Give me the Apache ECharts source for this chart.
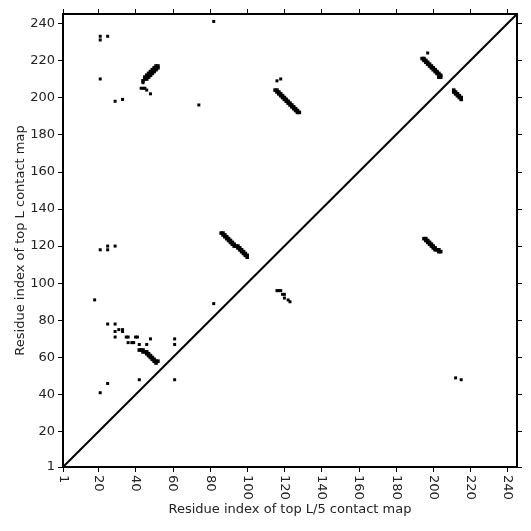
<!DOCTYPE html>
<html>
<head>
<meta charset="utf-8">
<script src="https://cdn.jsdelivr.net/npm/echarts@6/dist/echarts.min.js"></script>
<style>
  html, body { margin: 0; padding: 0; background: #fff; }
  #chart { width: 531px; height: 531px; }
</style>
</head>
<body>
<div id="chart"></div>
<script>
// axis range and ticks
const axisMin = 1;
const axisMax = 245;
const tickValues = [1, 20, 40, 60, 80, 100, 120, 140, 160, 180, 200, 220, 240];
const diagonal = [1, 245];

// contact clusters, [x, y] residue pairs
const clusterA = [[44,209],[45,210],[45,211],[46,210],[46,211],[46,212],[47,211],[47,212],[47,213],[48,212],[48,213],[48,214],
  [49,213],[49,214],[49,215],[50,214],[50,215],[50,216],[51,215],[51,216],[51,217],[52,216],[52,217]];
const clusterB = [[115,204],[116,204],[116,203],[117,203],[117,202],[118,202],[118,201],[119,201],[119,200],[120,200],
  [120,199],[121,199],[121,198],[122,198],[122,197],[123,197],[123,196],[124,196],[124,195],[125,195],[125,194],
  [126,194],[126,193],[127,193],[127,192],[128,192]];
const clusterC = [[194,221],[195,221],[195,220],[196,220],[196,219],[197,219],[197,218],[198,218],[198,217],[199,217],
  [199,216],[200,216],[200,215],[201,215],[201,214],[202,214],[202,213],[203,213],[203,212],[204,212],[203,211],[204,211]];
const clusterD = [[211,204],[211,203],[212,203],[212,202],[213,202],[213,201],[214,201],[214,200],[215,200],[215,199]];
const clusterE = [[86,127],[87,127],[87,126],[88,126],[88,125],[89,125],[89,124],[90,124],[90,123],[91,123],[91,122],
  [92,122],[92,121],[93,121],[93,120],[94,120],[95,120],[95,119],[96,119],[96,118],[97,118],[97,117],[98,117],
  [98,116],[99,116],[99,115],[100,115],[100,114]];
const clusterF = [[195,124],[196,124],[196,123],[197,123],[197,122],[198,122],[198,121],[199,121],[199,120],[200,120],
  [200,119],[201,119],[201,118],[202,118],[203,118],[203,117],[204,117]];
const clusterG = [[42,64],[43,64],[44,64],[44,63],[45,63],[46,63],[46,62],[47,62],[47,61],[48,61],[48,60],[49,60],
  [49,59],[50,59],[50,58],[51,58],[52,58],[51,57]];
const isolated = [[82,241],[21,233],[25,233],[21,231],[21,210],[44,208],[43,205],[44,205],[45,205],[46,204],[48,202],
  [29,198],[33,199],[74,196],[116,209],[118,210],[197,224],
  [21,118],[25,120],[25,118],[29,120],[18,91],[82,89],[25,78],[29,78],[29,74],[31,75],[33,75],[33,74],
  [29,71],[35,71],[36,71],[40,71],[41,71],[36,68],[38,68],[39,68],[42,67],[46,67],[48,70],[61,70],[61,67],
  [25,46],[21,41],[42,48],[61,48],
  [116,96],[117,96],[118,96],[119,94],[120,94],[120,92],[122,91],[123,90],
  [212,49],[215,48]];

const clusters = [].concat(clusterA, clusterB, clusterC, clusterD, clusterE, clusterF, clusterG);

const font = 'DejaVu Sans';
const ink = '#000';

function valueAxis(pos, showLabels, extra) {
  return Object.assign({
    type: 'value', position: pos, min: axisMin, max: axisMax,
    axisLine: { show: true, onZero: false, lineStyle: { color: ink, width: 2 } },
    axisTick: { show: true, inside: false, length: 5, lineStyle: { color: ink, width: 1 }, customValues: tickValues },
    axisLabel: { show: showLabels, color: '#222', fontFamily: font, fontSize: 13, customValues: tickValues },
    splitLine: { show: false },
  }, extra || {});
}

const chart = echarts.init(document.getElementById('chart'));
chart.setOption({
  backgroundColor: '#fff',
  animation: false,
  grid: { left: 63, right: 14, top: 14, bottom: 64 },
  xAxis: [
    valueAxis('bottom', true, {
      name: 'Residue index of top L/5 contact map', nameLocation: 'middle', nameGap: 36,
      nameMoveOverlap: false,
      nameTextStyle: { color: '#222', fontFamily: font, fontSize: 13 },
      axisLabel: { show: true, rotate: -90, margin: 8, color: '#222', fontFamily: font, fontSize: 13, customValues: tickValues },
    }),
    valueAxis('top', false),
  ],
  yAxis: [
    valueAxis('left', true, {
      name: 'Residue index of top L contact map', nameLocation: 'middle', nameGap: 36,
      nameMoveOverlap: false,
      nameTextStyle: { color: '#222', fontFamily: font, fontSize: 13 },
    }),
    valueAxis('right', false),
  ],
  series: [
    {
      type: 'line',
      data: [[diagonal[0], diagonal[0]], [diagonal[1], diagonal[1]]],
      symbol: 'none',
      lineStyle: { color: ink, width: 2 },
      silent: true,
    },
    {
      type: 'scatter',
      data: clusters,
      symbol: 'rect',
      symbolSize: 3.6,
      itemStyle: { color: ink, opacity: 1 },
    },
    {
      type: 'scatter',
      data: isolated,
      symbol: 'rect',
      symbolSize: 3,
      itemStyle: { color: ink, opacity: 1 },
    },
  ],
});
</script>
</body>
</html>
